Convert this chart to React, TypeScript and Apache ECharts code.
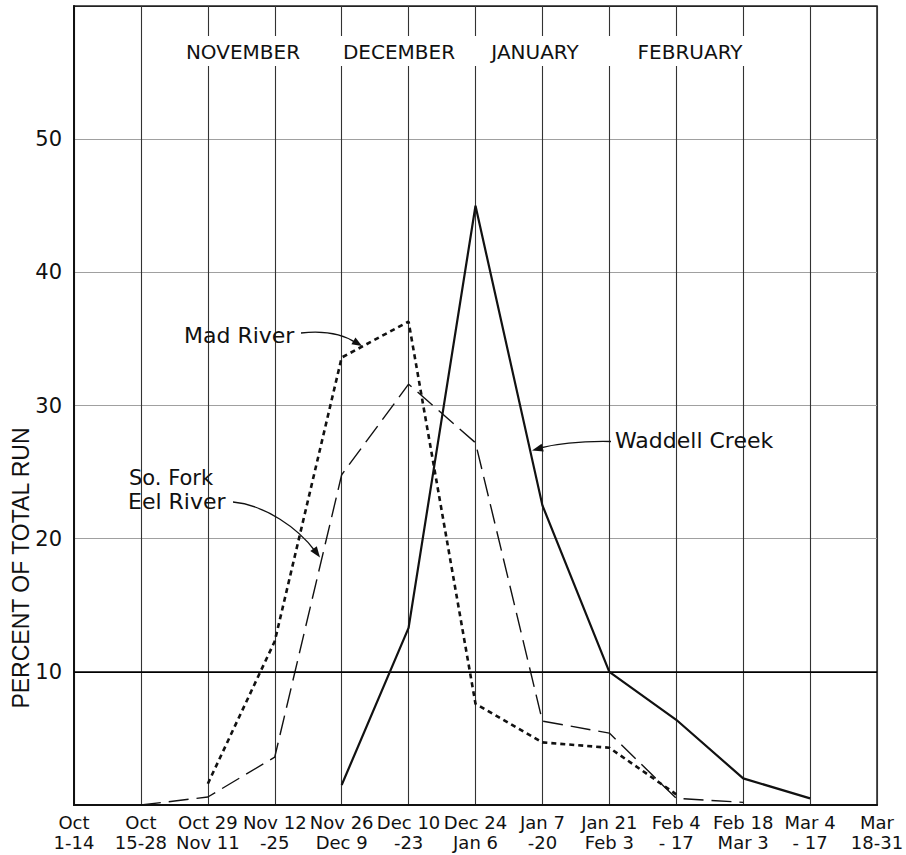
import React, { useEffect, useRef } from "react";
import * as echarts from "echarts";

const categories = [
  "Oct\n1-14",
  "Oct\n15-28",
  "Oct 29\nNov 11",
  "Nov 12\n-25",
  "Nov 26\nDec 9",
  "Dec 10\n-23",
  "Dec 24\nJan 6",
  "Jan 7\n-20",
  "Jan 21\nFeb 3",
  "Feb 4\n- 17",
  "Feb 18\nMar 3",
  "Mar 4\n- 17",
  "Mar\n18-31",
];

const waddellCreek = [null, null, null, null, 1.5, 13.3, 45.0, 22.5, 10.0, 6.4, 2.0, 0.5, null];
const madRiver = [null, null, 1.6, 12.3, 33.6, 36.3, 7.6, 4.7, 4.3, 0.8, null, null, null];
const eelRiver = [null, 0, 0.6, 3.6, 24.8, 31.6, 27.2, 6.3, 5.4, 0.5, 0.2, null, null];

const monthLabels = ["NOVEMBER", "DECEMBER", "JANUARY", "FEBRUARY"];
const monthCenters = [243, 399, 535, 690];

const yTicks = { min: 0, max: 60, interval: 10 };
const yName = "PERCENT OF TOTAL RUN";

const FONT = "'DejaVu Sans', 'Noto Sans', sans-serif";

export default function App() {
  const ref = useRef<HTMLDivElement>(null);
  useEffect(() => {
    if (!ref.current) return;
    const chart = echarts.init(ref.current, null, { renderer: "svg" });

    const ink = "#111";
    const arrowStyle = { stroke: ink, lineWidth: 1.3, fill: "none" };

    const graphics: any[] = [
      {
        type: "rect",
        z: 100,
        shape: { x: 180, y: 36, width: 580, height: 30 },
        style: { fill: "#fff" },
      },
      ...monthLabels.map((m, i) => ({
        type: "text",
        z: 101,
        x: monthCenters[i],
        y: 52,
        style: {
          text: m,
          font: `20px ${FONT}`,
          fill: ink,
          textAlign: "center",
          textVerticalAlign: "middle",
        },
      })),
      // y-axis title
      {
        type: "text",
        z: 101,
        x: 21,
        y: 568,
        rotation: Math.PI / 2,
        style: {
          text: yName,
          font: `23px 'Liberation Sans', Arial, sans-serif`,
          fill: ink,
          textAlign: "center",
          textVerticalAlign: "middle",
        },
      },
      // Mad River annotation
      {
        type: "text",
        z: 101,
        x: 184,
        y: 335,
        style: { text: "Mad River", font: `22px ${FONT}`, fill: ink, textAlign: "left", textVerticalAlign: "middle" },
      },
      {
        type: "bezierCurve",
        z: 101,
        shape: { x1: 301, y1: 333, cpx1: 330, cpy1: 330, cpx2: 346, cpy2: 336, x2: 356, y2: 343 },
        style: arrowStyle,
      },
      {
        type: "polygon",
        z: 101,
        shape: { points: [[362, 346], [351.4, 344.3], [355.5, 337.5]] },
        style: { fill: ink },
      },
      // So. Fork Eel River annotation
      {
        type: "text",
        z: 101,
        x: 129,
        y: 478,
        style: { text: "So. Fork", font: `21px ${FONT}`, fill: ink, textAlign: "left", textVerticalAlign: "middle" },
      },
      {
        type: "text",
        z: 101,
        x: 128,
        y: 501,
        style: { text: "Eel River", font: `22px ${FONT}`, fill: ink, textAlign: "left", textVerticalAlign: "middle" },
      },
      {
        type: "bezierCurve",
        z: 101,
        shape: { x1: 233, y1: 502, cpx1: 265, cpy1: 505, cpx2: 298, cpy2: 528, x2: 315, y2: 551 },
        style: arrowStyle,
      },
      {
        type: "polygon",
        z: 101,
        shape: { points: [[320, 557.5], [310.3, 550.9], [316.8, 546.2]] },
        style: { fill: ink },
      },
      // Waddell Creek annotation
      {
        type: "text",
        z: 101,
        x: 615,
        y: 440,
        style: { text: "Waddell Creek", font: `22px ${FONT}`, fill: ink, textAlign: "left", textVerticalAlign: "middle" },
      },
      {
        type: "bezierCurve",
        z: 101,
        shape: { x1: 611, y1: 441.5, cpx1: 585, cpy1: 441, cpx2: 560, cpy2: 443, x2: 540, y2: 448 },
        style: arrowStyle,
      },
      {
        type: "polygon",
        z: 101,
        shape: { points: [[532, 450.5], [543.7, 451.5], [541.6, 443.8]] },
        style: { fill: ink },
      },
    ];

    chart.setOption({
      animation: false,
      backgroundColor: "#fff",
      grid: {
        left: 74,
        top: 6,
        right: 29,
        bottom: 50,
        show: true,
        borderColor: "#222",
        borderWidth: 1.5,
        containLabel: false,
        outerBoundsMode: "none",
      },
      xAxis: {
        type: "category",
        data: categories,
        boundaryGap: false,
        axisLine: { lineStyle: { color: ink, width: 2.2 } },
        axisTick: { show: false },
        splitLine: { show: true, lineStyle: { color: "#333", width: 1.1 } },
        axisLabel: {
          interval: 0,
          color: ink,
          fontFamily: FONT,
          fontSize: 18,
          lineHeight: 20,
          margin: 7,
          align: "center",
        },
      },
      yAxis: {
        type: "value",
        min: yTicks.min,
        max: yTicks.max,
        interval: yTicks.interval,
        axisLine: { show: true, lineStyle: { color: ink, width: 2 } },
        axisTick: { show: false },
        axisLabel: {
          color: ink,
          fontFamily: FONT,
          fontSize: 21,
          margin: 12,
          formatter: (v: number) => (v === yTicks.min || v === yTicks.max ? "" : String(v)),
        },
        splitLine: {
          show: true,
          lineStyle: { color: ["#000", "#000", "#a0a0a0", "#a0a0a0", "#a0a0a0", "#a0a0a0", "#222"], width: 1 },
        },
      },
      series: [
        {
          name: "So. Fork Eel River",
          type: "line",
          data: eelRiver,
          showSymbol: false,
          symbol: "none",
          connectNulls: false,
          lineStyle: { color: ink, width: 1.4, type: [20, 8] },
          z: 3,
          markLine: {
            silent: true,
            symbol: "none",
            label: { show: false },
            lineStyle: { color: "#000", width: 1.6, type: "solid" },
            data: [{ yAxis: 10 }],
          },
        },
        {
          name: "Mad River",
          type: "line",
          data: madRiver,
          showSymbol: false,
          symbol: "none",
          lineStyle: { color: ink, width: 2.6, type: [5, 4] },
          z: 4,
        },
        {
          name: "Waddell Creek",
          type: "line",
          data: waddellCreek,
          showSymbol: false,
          symbol: "none",
          lineStyle: { color: ink, width: 2.2, type: "solid" },
          z: 5,
        },
      ],
      graphic: graphics,
    });

    return () => chart.dispose();
  }, []);

  return (
    <div
      ref={ref}
      style={{ position: "absolute", left: 0, top: 0, width: 906, height: 855, overflow: "hidden" }}
    />
  );
}
